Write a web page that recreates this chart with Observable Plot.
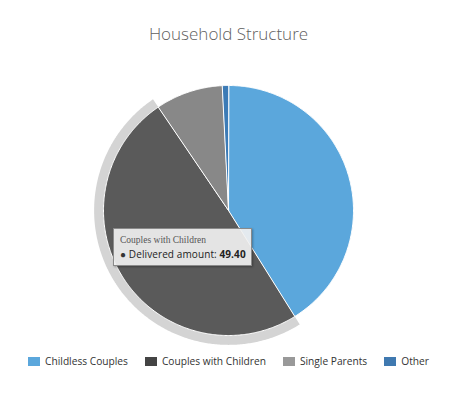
<!DOCTYPE html>
<html>
<head>
<meta charset="utf-8">
<script src="https://cdn.jsdelivr.net/npm/d3@7"></script>
<script src="https://cdn.jsdelivr.net/npm/@observablehq/plot@0.6"></script>
<style>
  body { margin: 0; background: #fff; font-family: "Open Sans", sans-serif; }
  #wrap { position: relative; width: 453px; height: 393px; }
  #title { position: absolute; top: 22px; left: 2px; width: 453px; text-align: center; font-size: 17px; color: #5f5f5f; font-weight: 300; }
  #chart { position: absolute; top: 60px; left: 0; }
  #legend { position: absolute; top: 354px; left: 2px; width: 453px; display: flex; justify-content: center; gap: 17px; font-size: 10.2px; color: #333; }
  #legend .item { display: flex; align-items: center; }
  #legend .sw { width: 12px; height: 9px; margin-right: 5px; }
  #tip { position: absolute; left: 113px; top: 228px; width: 139px; height: 38px; background: rgba(240,240,240,0.92); border: 1px solid #8a8a8a; box-shadow: 1px 1px 2px rgba(0,0,0,0.3); box-sizing: border-box; }
  #tip .l1 { position: absolute; left: 6px; top: 6px; font-size: 9.5px; color: #555; font-family: "Liberation Serif", serif; }
  #tip .l2 { position: absolute; left: 6px; top: 18px; font-size: 10px; color: #222; white-space: nowrap; letter-spacing: 0.1px; }
</style>
</head>
<body>
<div id="wrap">
  <div id="title"></div>
  <div id="chart"></div>
  <div id="tip"></div>
  <div id="legend"></div>
</div>
<script>
const title = "Household Structure";
const categories = ["Childless Couples", "Couples with Children", "Single Parents", "Other"];
const values = [41.1, 49.4, 8.7, 0.8];
const sliceColors = ["#5ba7dc", "#5a5a5a", "#888888", "#3c7bb6"];
const legendColors = ["#5ba7dc", "#444444", "#999999", "#3f79b0"];
const seriesName = "Delivered amount";
const hovered = 1;

document.getElementById("title").textContent = title;

const pie = d3.pie().sort(null).value(d => d)(values);

function sector(i, r, a0, a1) {
  const pts = [{slice: i, x: 0, y: 0}];
  const n = Math.max(2, Math.ceil((a1 - a0) / 0.01));
  for (let k = 0; k <= n; k++) {
    const a = a0 + (a1 - a0) * k / n;
    pts.push({slice: i, x: r * Math.sin(a), y: r * Math.cos(a)});
  }
  return pts;
}

const slices = pie.flatMap((p, i) => sector(i, 1, p.startAngle, p.endAngle));
const hp = pie[hovered];
const halo = sector(hovered, 1.075, hp.startAngle, hp.endAngle);

const plot = Plot.plot({
  width: 453,
  height: 285,
  margin: 0,
  x: {domain: [-1, 1], range: [103, 353], axis: null},
  y: {domain: [-1, 1], range: [275, 25], axis: null},
  marks: [
    Plot.line(halo, {x: "x", y: "y", fill: "#d4d4d4", stroke: "none", curve: "linear-closed"}),
    Plot.line(slices, {x: "x", y: "y", z: "slice", fill: d => sliceColors[d.slice], stroke: "#fff", strokeWidth: 1, strokeLinejoin: "round", curve: "linear-closed"})
  ]
});
document.getElementById("chart").appendChild(plot);

const tip = document.getElementById("tip");
tip.innerHTML = `<div class="l1">${categories[hovered]}</div><div class="l2"><span style="color:#333">\u25CF</span> ${seriesName}: <b>${values[hovered].toFixed(2)}</b></div>`;

const legend = document.getElementById("legend");
categories.forEach((c, i) => {
  const it = document.createElement("div");
  it.className = "item";
  it.innerHTML = `<span class="sw" style="background:${legendColors[i]}"></span><span>${c}</span>`;
  legend.appendChild(it);
});
</script>
</body>
</html>
